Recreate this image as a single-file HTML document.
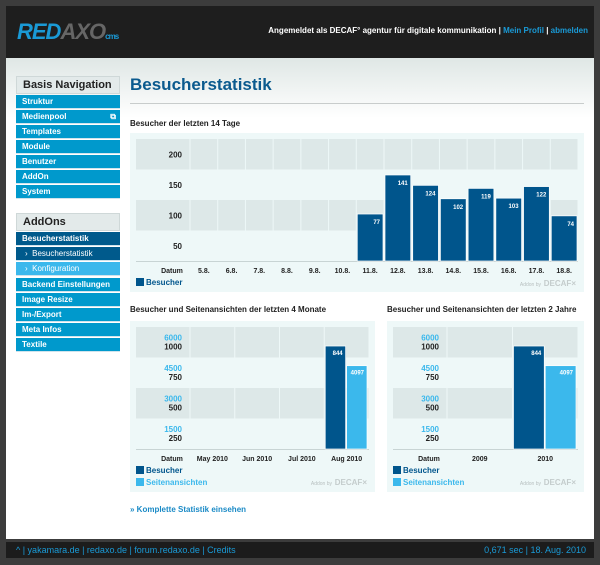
<!DOCTYPE html>
<html><head><meta charset="utf-8">
<style>
*{margin:0;padding:0;box-sizing:border-box}
body{width:600px;height:565px;background:#3c3c3c;font-family:"Liberation Sans",sans-serif;position:relative;overflow:hidden}
.abs{position:absolute}
#header{left:6px;top:6px;width:588px;height:52px;background:#1e1e1e}
#content{left:6px;top:58px;width:588px;height:481px;background:linear-gradient(#dfe7e5,#ffffff 60px)}
#footer{left:6px;top:542px;width:588px;height:16px;background:#1c1c1c;font-size:9px;color:#1a9ad6;line-height:16px}
.nav{font-size:8px;font-weight:bold;color:#fff;background:#0099cc;height:14px;line-height:14px;padding-left:6px;width:104px;left:16px;border-bottom:1px solid #cfe3ec}
.navh{left:16px;width:104px;height:18px;background:#e3eaea;border:1px solid #cfd8d8;font-size:11px;font-weight:bold;color:#222;padding-left:6px;line-height:17px}
svg text{font-family:"Liberation Sans",sans-serif}
</style></head><body>
<div class="abs" id="header">
  <div class="abs" style="left:11px;top:13px;font-size:22px;font-weight:bold;font-style:italic;letter-spacing:-1px;color:#1a9ad6">RED<span style="color:#666">AXO</span><span style="font-size:8px;color:#1a9ad6;font-style:normal">cms</span></div>
  <div class="abs" style="right:6px;top:20px;font-size:8px;font-weight:bold;color:#fff">Angemeldet als DECAF° agentur für digitale kommunikation | <span style="color:#1a9ad6">Mein Profil</span> | <span style="color:#1a9ad6">abmelden</span></div>
</div>
<div class="abs" id="content"></div>

<div class="abs navh" style="top:76px">Basis Navigation</div>
<div class="abs nav" style="top:95px">Struktur</div>
<div class="abs nav" style="top:110px">Medienpool<span style="float:right;margin-right:4px">⧉</span></div>
<div class="abs nav" style="top:125px">Templates</div>
<div class="abs nav" style="top:140px">Module</div>
<div class="abs nav" style="top:155px">Benutzer</div>
<div class="abs nav" style="top:170px">AddOn</div>
<div class="abs nav" style="top:185px">System</div>
<div class="abs navh" style="top:213px">AddOns</div>
<div class="abs nav" style="top:232px;background:#005a8c">Besucherstatistik</div>
<div class="abs nav" style="top:247px;background:#005a8c;font-weight:normal;padding-left:9px">›&nbsp; Besucherstatistik</div>
<div class="abs nav" style="top:262px;background:#3bb8ec;font-weight:normal;padding-left:9px">›&nbsp; Konfiguration</div>
<div class="abs nav" style="top:278px">Backend Einstellungen</div>
<div class="abs nav" style="top:293px">Image Resize</div>
<div class="abs nav" style="top:308px">Im-/Export</div>
<div class="abs nav" style="top:323px">Meta Infos</div>
<div class="abs nav" style="top:338px">Textile</div>

<div class="abs" style="left:130px;top:75px;font-size:17px;font-weight:bold;color:#0b5a8e">Besucherstatistik</div>
<div class="abs" style="left:130px;top:103px;width:454px;height:1px;background:#c8cccc"></div>
<div class="abs" style="left:130px;top:119px;font-size:8px;font-weight:bold;color:#222">Besucher der letzten 14 Tage</div>
<div class="abs" style="left:130px;top:305px;font-size:8px;font-weight:bold;color:#222">Besucher und Seitenansichten der letzten 4 Monate</div>
<div class="abs" style="left:387px;top:305px;font-size:8px;font-weight:bold;color:#222">Besucher und Seitenansichten der letzten 2 Jahre</div>
<div class="abs" style="left:130px;top:505px;font-size:8px;font-weight:bold;color:#1a8ac6">» Komplette Statistik einsehen</div>

<svg class="abs" style="left:0;top:0" width="600" height="565" id="svg"></svg>

<div class="abs" id="footer">
  <span style="position:absolute;left:10px">^ | yakamara.de | redaxo.de | forum.redaxo.de | Credits</span>
  <span style="position:absolute;right:8px">0,671 sec | 18. Aug. 2010</span>
</div>

<script>
const days = ["5.8.","6.8.","7.8.","8.8.","9.8.","10.8.","11.8.","12.8.","13.8.","14.8.","15.8.","16.8.","17.8.","18.8."];
const dayVisitors = [0,0,0,0,0,0,77,141,124,102,119,103,122,74];
const dayTicks = [200,150,100,50];
const months = ["May 2010","Jun 2010","Jul 2010","Aug 2010"];
const monthVisitors = [0,0,0,844];
const monthViews = [0,0,0,4097];
const years = ["2009","2010"];
const yearVisitors = [0,844];
const yearViews = [0,4097];
const visTicks = [1000,750,500,250];
const viewTicks = [6000,4500,3000,1500];

const svg = document.getElementById('svg');
const NS = "http://www.w3.org/2000/svg";
function mk(tag, attrs, name, text){
  const e = document.createElementNS(NS, tag);
  for (const k in attrs) e.setAttribute(k, attrs[k]);
  
  
  if (text !== undefined) e.textContent = text;
  svg.appendChild(e);
  return e;
}
function chart(o){
  // panel
  mk('rect',{x:o.px,y:o.py,width:o.pw,height:o.ph,fill:'#eef8f8'},'chart-panel');
  const top=o.top, bot=o.top+122, x0=o.px+6, lx=x0+54, x1=o.px+o.pw-6;
  const bh=(bot-top)/4;
  for(let i=0;i<4;i++){
    if(i%2===0) mk('rect',{x:x0,y:top+i*bh,width:x1-x0,height:bh,fill:'#dde8e8'},'grid-band');
  }
  const n=o.cats.length, cw=(x1-lx)/n;
  for(let i=0;i<=n;i++) mk('line',{x1:lx+i*cw,y1:top,x2:lx+i*cw,y2:bot,stroke:'#eef8f8','stroke-width':1},'grid-line');
  mk('line',{x1:x0,y1:bot+0.5,x2:x1,y2:bot+0.5,stroke:'#c8d4d4'},'x-axis');
  const yv=(v,max)=>bot-v/max*(bot-top);
  // ticks
  o.ticks1.forEach((t,i)=>{
    const y = top + i*bh + bh/2;
    if(o.ticks2){
      mk('text',{x:lx-8,y:y-2,'text-anchor':'end','font-size':8,'font-weight':'bold',fill:'#3bb8ec'},'y2-tick-label',o.ticks2[i]);
      mk('text',{x:lx-8,y:y+7,'text-anchor':'end','font-size':8,'font-weight':'bold',fill:'#222'},'y-tick-label',t);
    } else mk('text',{x:lx-8,y:y+3,'text-anchor':'end','font-size':8,'font-weight':'bold',fill:'#222'},'y-tick-label',t);
  });
  mk('text',{x:x0+36,y:bot+12,'text-anchor':'middle','font-size':7,'font-weight':'bold',fill:'#222'},'x-axis-title','Datum');
  o.cats.forEach((c,i)=>{
    mk('text',{x:lx+(i+0.5)*cw,y:bot+12,'text-anchor':'middle','font-size':7,'font-weight':'bold',fill:'#222'},'x-tick-label',c);
    const a=o.s1[i];
    if(o.s2){
      const bw=(cw-4)/2;
      if(a>0){
        const y=yv(a,o.max1);
        mk('rect',{x:lx+i*cw+1,y:y,width:bw,height:bot-y,fill:'#00558c',stroke:'#fff','stroke-width':0.7},'bar-visitors');
        mk('text',{x:lx+i*cw+1+bw-3,y:y+9,'text-anchor':'end','font-size':6,'font-weight':'bold',fill:'#fff'},'bar-value',a);
      }
      const b=o.s2[i];
      if(b>0){
        const y=yv(b,o.max2);
        mk('rect',{x:lx+i*cw+2+bw,y:y,width:bw,height:bot-y,fill:'#3bb8ec',stroke:'#fff','stroke-width':0.7},'bar-pageviews');
        mk('text',{x:lx+i*cw+2+2*bw-3,y:y+9,'text-anchor':'end','font-size':6,'font-weight':'bold',fill:'#fff'},'bar-value',b);
      }
    } else if(a>0){
      const y=yv(a,o.max1);
      mk('rect',{x:lx+i*cw+1,y:y,width:cw-2,height:bot-y,fill:'#00558c',stroke:'#fff','stroke-width':0.7},'bar-visitors');
      mk('text',{x:lx+i*cw+cw-4,y:y+10,'text-anchor':'end','font-size':6,'font-weight':'bold',fill:'#fff'},'bar-value',a);
    }
  });
  // legend
  mk('rect',{x:x0,y:bot+17,width:8,height:8,fill:'#00558c'},'legend-swatch-visitors');
  mk('text',{x:x0+10,y:bot+24,'font-size':8,'font-weight':'bold',fill:'#00558c'},'legend-visitors','Besucher');
  let ay=bot+25;
  if(o.s2){
    mk('rect',{x:x0,y:bot+29,width:8,height:8,fill:'#3bb8ec'},'legend-swatch-pageviews');
    mk('text',{x:x0+10,y:bot+36,'font-size':8,'font-weight':'bold',fill:'#3bb8ec'},'legend-pageviews','Seitenansichten');
    ay=bot+36;
  }
  mk('text',{x:x1-2,y:ay,'text-anchor':'end','font-size':8,'font-weight':'bold',fill:'#c4cccc'},'addon-credit','DECAF×');
  mk('text',{x:x1-37,y:ay,'text-anchor':'end','font-size':5,fill:'#b8c0c0'},'addon-credit-text','Addon by');
}
chart({px:130,py:133,pw:454,ph:159,top:139,cats:days,s1:dayVisitors,max1:200,ticks1:dayTicks});
chart({px:130,py:321,pw:245,ph:171,top:327,cats:months,s1:monthVisitors,s2:monthViews,max1:1000,max2:6000,ticks1:visTicks,ticks2:viewTicks});
chart({px:387,py:321,pw:197,ph:171,top:327,cats:years,s1:yearVisitors,s2:yearViews,max1:1000,max2:6000,ticks1:visTicks,ticks2:viewTicks});
</script>
</body></html>
